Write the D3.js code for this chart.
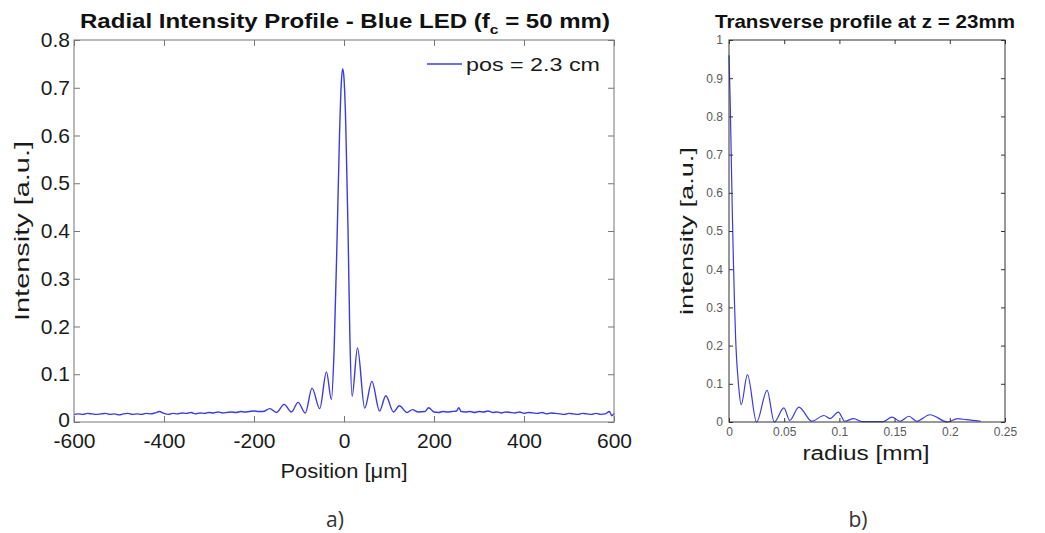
<!DOCTYPE html>
<html>
<head>
<meta charset="utf-8">
<script src="https://cdn.jsdelivr.net/npm/d3@7"></script>
<style>
  body { margin: 0; background: #fff; }
  svg { display: block; font-family: "Liberation Sans", Arial, sans-serif; }
</style>
</head>
<body>
<svg id="chart" width="1045" height="533"></svg>
<script>
// a) radial profile, positions in um
const posA = [-600, -590, -580, -570, -560, -550, -540, -530, -520, -510, -500, -490, -480, -470, -460,
  -450, -440, -430, -420, -410, -400, -390, -380, -370, -360, -350, -340, -330, -320, -310, -300,
  -290, -280, -270, -260, -250, -240, -230, -220, -210, -200, -190, -180, -165, -150, -133, -117,
  -102, -86, -71, -54, -39, -28, -22, -15, -10, -6, -3, 0, 4, 9, 13, 18, 30, 46, 62, 79, 93, 110,
  123, 140, 152, 165, 180, 188, 200, 210, 220, 230, 240, 250, 255, 260, 270, 280, 290, 300, 310,
  320, 330, 340, 350, 360, 370, 380, 390, 400, 410, 420, 430, 440, 450, 460, 470, 480, 490, 500,
  510, 520, 530, 540, 550, 560, 570, 580, 590, 595, 600];
const intensityA = [0.016, 0.017, 0.016, 0.018, 0.017, 0.016, 0.017, 0.018, 0.016, 0.017, 0.015, 0.017,
  0.018, 0.016, 0.017, 0.016, 0.018, 0.017, 0.019, 0.022, 0.018, 0.016, 0.018, 0.017, 0.019, 0.018,
  0.020, 0.017, 0.019, 0.018, 0.020, 0.019, 0.021, 0.019, 0.020, 0.021, 0.020, 0.022, 0.021, 0.022,
  0.023, 0.022, 0.022, 0.028, 0.020, 0.037, 0.021, 0.041, 0.019, 0.071, 0.028, 0.105, 0.047, 0.15,
  0.40, 0.60, 0.71, 0.74, 0.72, 0.62, 0.40, 0.18, 0.054, 0.155, 0.029, 0.085, 0.023, 0.055, 0.021,
  0.034, 0.020, 0.026, 0.021, 0.022, 0.030, 0.021, 0.020, 0.022, 0.021, 0.022, 0.023, 0.030, 0.022,
  0.021, 0.022, 0.020, 0.022, 0.021, 0.023, 0.020, 0.021, 0.019, 0.021, 0.020, 0.019, 0.021, 0.018,
  0.020, 0.019, 0.018, 0.020, 0.017, 0.019, 0.018, 0.017, 0.016, 0.018, 0.017, 0.016, 0.018, 0.017,
  0.016, 0.018, 0.016, 0.017, 0.022, 0.013, 0.018];
const xTicksA = [-600, -400, -200, 0, 200, 400, 600];
const yTicksA = [0, 0.1, 0.2, 0.3, 0.4, 0.5, 0.6, 0.7, 0.8];

// b) transverse profile, radius in mm
const radiusB = [0, 0.001, 0.002, 0.003, 0.004, 0.005, 0.006, 0.007, 0.008, 0.009, 0.011, 0.0167,
  0.025, 0.0345, 0.041, 0.0497, 0.055, 0.0633, 0.075, 0.086, 0.0915, 0.099, 0.105, 0.113, 0.12,
  0.14, 0.1476, 0.155, 0.163, 0.17, 0.182, 0.198, 0.207, 0.215, 0.228];
const intensityB = [0.96, 0.85, 0.70, 0.55, 0.42, 0.31, 0.22, 0.16, 0.12, 0.085, 0.045, 0.124,
  0.0, 0.083, 0.0, 0.037, 0.004, 0.039, 0.002, 0.017, 0.009, 0.026, 0.002, 0.009, 0.001,
  0.001, 0.013, 0.002, 0.015, 0.002, 0.019, 0.0, 0.009, 0.006, 0.002];
const xTicksB = [0, 0.05, 0.1, 0.15, 0.2, 0.25];
const yTicksB = [0, 0.1, 0.2, 0.3, 0.4, 0.5, 0.6, 0.7, 0.8, 0.9, 1];

const blue = "#3b3be6";
const svg = d3.select("#chart");

function boxAxes(g, x, y, xTicks, yTicks, opt) {
  const [x0, x1] = x.range();
  const [y0, y1] = y.range();
  const t = opt.tick;

  g.append("g").attr("transform", `translate(0,${y0})`)
    .call(d3.axisBottom(x).tickValues(xTicks).tickSize(-t).tickPadding(opt.padX).tickFormat(opt.fmtX));
  g.append("g").attr("transform", `translate(${x0},0)`)
    .call(d3.axisLeft(y).tickValues(yTicks).tickSize(-t).tickPadding(opt.padY).tickFormat(opt.fmtY));
  g.append("g").attr("transform", `translate(0,${y1})`)
    .call(d3.axisTop(x).tickValues(xTicks).tickSize(-t).tickFormat(""));
  g.append("g").attr("transform", `translate(${x1},0)`)
    .call(d3.axisRight(y).tickValues(yTicks).tickSize(-t).tickFormat(""));

  g.selectAll(".domain").remove();
  g.selectAll(".tick line").attr("stroke", opt.axisColor);
  g.selectAll(".tick text").attr("fill", opt.textColor).style("font-size", opt.fontSize + "px");

  g.append("rect")
    .attr("x", x0).attr("y", y1)
    .attr("width", x1 - x0).attr("height", y0 - y1)
    .attr("fill", "none").attr("stroke", opt.axisColor).attr("stroke-width", 1);
}

function label(g, txt, x, y, size, len, rotate) {
  return g.append("text")
    .attr("transform", `translate(${x},${y})` + (rotate ? " rotate(-90)" : ""))
    .attr("text-anchor", "middle")
    .attr("textLength", len).attr("lengthAdjust", "spacingAndGlyphs")
    .style("font-size", size + "px").attr("fill", "#1a1a1a")
    .text(txt);
}

// ---- panel a ----
const xA = d3.scaleLinear().domain([-600, 600]).range([74, 614]);
const yA = d3.scaleLinear().domain([0, 0.8]).range([422, 40]);
const gA = svg.append("g");

gA.append("path")
  .datum(d3.zip(posA, intensityA))
  .attr("fill", "none")
  .attr("stroke", blue)
  .attr("stroke-width", 1.4)
  .attr("d", d3.line().x(d => xA(d[0])).y(d => yA(d[1])).curve(d3.curveMonotoneX));

boxAxes(gA, xA, yA, xTicksA, yTicksA, {
  tick: 6, padX: 11, padY: 4, axisColor: "#777", textColor: "#1a1a1a", fontSize: 21,
  fmtX: d => String(d), fmtY: d => d === 0 ? "0" : d3.format(".1f")(d)
});
// MATLAB puts the zero label a little high so it clears the x labels
gA.selectAll(".tick text").filter(function () { return this.textContent === "0" && this.getAttribute("x") !== null && +this.getAttribute("x") < 0; })
  .attr("dy", "0.2em");

const titleA = gA.append("text")
  .attr("x", 345).attr("y", 28)
  .attr("text-anchor", "middle")
  .attr("textLength", 530).attr("lengthAdjust", "spacingAndGlyphs")
  .style("font-size", "20px").style("font-weight", "bold").attr("fill", "#111");
titleA.append("tspan").text("Radial Intensity Profile - Blue LED (f");
titleA.append("tspan").attr("dy", 6).style("font-size", "13px").text("c");
titleA.append("tspan").attr("dy", -6).text(" = 50 mm)");

label(gA, "Intensity [a.u.]", 29, 231, 20, 180, true);
label(gA, "Position [\u03bcm]", 344, 478, 20, 127, false);

gA.append("line")
  .attr("x1", 427).attr("x2", 462).attr("y1", 64).attr("y2", 64)
  .attr("stroke", blue).attr("stroke-width", 1.4);
gA.append("text")
  .attr("x", 466).attr("y", 71)
  .attr("textLength", 134).attr("lengthAdjust", "spacingAndGlyphs")
  .style("font-size", "19px").attr("fill", "#1a1a1a")
  .text("pos = 2.3 cm");

// ---- panel b ----
const xB = d3.scaleLinear().domain([0, 0.25]).range([729, 1005]);
const yB = d3.scaleLinear().domain([0, 1]).range([422, 40]);
const gB = svg.append("g");

gB.append("path")
  .datum(d3.zip(radiusB, intensityB))
  .attr("fill", "none")
  .attr("stroke", blue)
  .attr("stroke-width", 1.2)
  .attr("d", d3.line().x(d => xB(d[0])).y(d => yB(d[1])).curve(d3.curveMonotoneX));

boxAxes(gB, xB, yB, xTicksB, yTicksB, {
  tick: 4, padX: 5, padY: 6, axisColor: "#333", textColor: "#5a5a5a", fontSize: 12,
  fmtX: d => String(d), fmtY: d => String(d)
});

gB.append("text")
  .attr("x", 865).attr("y", 28)
  .attr("text-anchor", "middle")
  .attr("textLength", 300).attr("lengthAdjust", "spacingAndGlyphs")
  .style("font-size", "19px").style("font-weight", "bold").attr("fill", "#111")
  .text("Transverse profile at z = 23mm");

label(gB, "intensity [a.u.]", 693, 231, 19, 168, true);
label(gB, "radius [mm]", 866, 460, 20, 127, false);

// panel letters
svg.append("text").attr("x", 335).attr("y", 527).attr("text-anchor", "middle")
  .style("font-family", "'Open Sans', sans-serif").style("font-size", "21px").attr("fill", "#333")
  .text("a)");
svg.append("text").attr("x", 858).attr("y", 527).attr("text-anchor", "middle")
  .style("font-family", "'Open Sans', sans-serif").style("font-size", "21px").attr("fill", "#333")
  .text("b)");
</script>
</body>
</html>
